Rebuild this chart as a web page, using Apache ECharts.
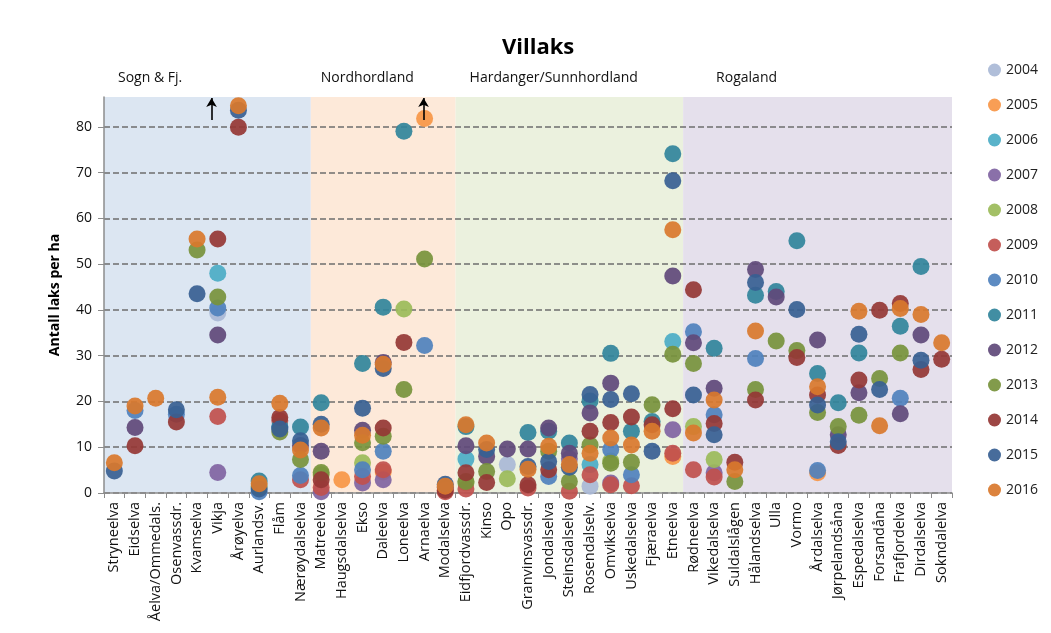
<!DOCTYPE html>
<html lang="no">
<head>
	<meta charset="UTF-8">
	<title>Villaks</title>
	<script src="https://cdn.jsdelivr.net/npm/echarts@6/dist/echarts.min.js"></script>
</head>
<body style="margin:0;background-color:#ffffff;">
<div id="main" style="width:1051px;height:633px;"></div>
<script type="text/javascript">
    // elvene langs x-aksen
    var rivers = ['Stryneelva','Eidselva','Åelva/Ommedals.','Osenvassdr.','Kvamselva','Vikja','Årøyelva','Aurlandsv.','Flåm','Nærøydalselva',
        'Matreelva','Haugsdalselva','Ekso','Daleelva','Loneelva','Arnaelva','Modalselva',
        'Eidfjordvassdr.','Kinso','Opo','Granvinsvassdr.','Jondalselva','Steinsdalselva','Rosendalselv.','Omvikselva','Uskedalselva','Fjæraelva','Etneelva',
        'Rødneelva','Vikedalselva','Suldalslågen','Hålandselva','Ulla','Vormo','Årdalselva','Jørpelandsåna','Espedalselva','Forsandåna','Frafjordelva','Dirdalselva','Sokndalelva'];

    // regioner: navn, fra-indeks, til-indeks
    var regions = [['Sogn & Fj.', 0, 10], ['Nordhordland', 10, 17], ['Hardanger/Sunnhordland', 17, 28], ['Rogaland', 28, 41]];

    var years = ['2004','2005','2006','2007','2008','2009','2010','2011','2012','2013','2014','2015','2016'];

    // antall laks per ha, ett array per år ('-' = ingen verdi)
    var y2004 = ['-','-','-','-','-',39.3,'-','-','-','-',  '-','-','-','-','-','-','-',  '-','-',6.2,'-','-','-',1.5,'-','-','-','-',  '-','-','-','-','-','-','-','-','-','-','-','-','-'];
    var y2005 = ['-','-','-','-','-','-','-','-','-','-',  '-',2.9,'-',4.6,'-',81.8,'-',  '-','-','-','-','-','-','-','-','-','-',8.0,  '-','-','-','-','-','-',4.4,'-','-','-','-','-','-'];
    var y2006 = ['-','-','-','-','-',48.0,'-','-','-','-',  '-','-','-','-','-','-','-',  7.4,'-','-','-','-','-',6.2,'-','-','-',33.1,  '-','-','-','-','-','-','-','-','-','-','-','-','-'];
    var y2007 = ['-','-','-','-','-',4.5,'-','-','-','-',  0.3,'-',2.2,2.9,'-','-','-',  '-','-','-','-','-',7.5,'-',2.2,'-','-',13.8,  '-',4.4,'-','-','-','-','-','-','-','-','-','-','-'];
    var y2008 = ['-','-','-','-','-','-','-','-','-','-',  4.0,'-',6.6,'-',40.2,'-','-',  2.2,'-',3.1,'-','-','-','-',7.0,'-','-','-',  14.5,7.3,'-','-','-','-','-','-','-','-','-','-','-'];
    var y2009 = ['-','-','-','-','-',16.7,'-','-',15.8,2.9,  1.2,'-',3.6,5.1,'-','-',0.3,  0.9,'-','-',1.1,'-',0.4,4.0,1.8,1.6,'-',8.7,  5.1,3.5,'-','-','-','-','-','-','-','-','-','-','-'];
    var y2010 = ['-',18.0,'-',17.2,'-',40.4,'-',0.3,14.3,3.8,  '-','-',5.1,9.1,'-',32.2,'-',  '-','-','-','-',3.6,'-','-',9.5,4.0,'-','-',  35.2,17.1,'-',29.4,'-','-',4.9,'-','-','-',20.7,'-','-'];
    var y2011 = ['-','-','-','-','-','-','-',2.6,14.5,14.4,  19.7,'-',28.3,40.6,79.0,'-','-',  14.5,'-','-',13.2,13.5,10.9,20.1,30.5,13.5,15.6,74.1,  '-',31.6,'-',43.2,44.0,55.1,26.1,19.7,30.6,'-',36.4,49.5,'-'];
    var y2012 = ['-',14.3,'-','-','-',34.5,'-','-','-',10.4,  9.1,'-',13.7,28.5,'-','-',1.2,  10.3,8.0,9.6,9.6,14.2,8.7,17.5,24.0,'-','-',47.4,  32.8,22.9,'-',48.8,42.8,'-',33.4,12.7,21.9,'-',17.3,34.5,'-'];
    var y2013 = ['-','-','-','-',53.1,42.8,'-',1.3,13.3,7.3,  4.5,'-',11.0,12.4,22.6,51.1,'-',  2.5,4.7,'-','-',9.1,2.5,10.5,6.5,6.7,19.3,30.3,  28.3,'-',2.5,22.6,33.2,31.1,17.6,14.5,17.0,25.0,30.6,'-','-'];
    var y2014 = ['-',10.3,'-',15.5,'-',55.5,79.9,'-',16.5,'-',  2.9,'-','-',14.2,32.9,'-',0.6,  4.4,2.3,'-',1.8,5.1,'-',13.5,15.4,16.6,14.9,18.4,  44.4,15.2,6.7,20.3,'-',29.6,21.4,10.4,24.7,39.9,41.4,27.0,29.2];
    var y2015 = [4.8,'-','-',18.2,43.5,'-',83.6,0.9,14.0,11.4,  15.0,'-',18.5,27.2,'-','-',1.9,  '-',9.5,'-',5.8,6.9,5.6,21.5,20.4,21.7,9.1,68.2,  21.4,12.7,'-',46.0,'-',40.1,19.2,11.2,34.7,22.6,'-',29.0,'-'];
    var y2016 = [6.6,19.0,20.7,'-',55.5,20.9,84.6,2.0,19.6,9.4,  14.2,'-',12.6,28.1,'-','-',1.5,  14.9,10.9,'-',5.2,10.2,6.2,8.7,12.0,10.5,13.5,57.5,  13.1,20.3,5.1,35.4,'-','-',23.2,'-',39.7,14.7,40.3,39.0,32.8];

    var yearData = [y2004, y2005, y2006, y2007, y2008, y2009, y2010, y2011, y2012, y2013, y2014, y2015, y2016];

    // piler for verdier over skalaen (posisjon på x, fra-til på y)
    var arrowX = [5.2, 15.45];
    var arrowY = [81.5, 86.3];

    var colors = ['#a9b9d6','#f79646','#4bacc6','#8064a2','#9bbb59','#c0504d','#4f81bd','#31849b','#5f497a','#77933c','#953735','#376092','#d9782d'];
    var bgColors = ['#dce6f2','#fde9d9','#ebf1de','#e5e0ec'];
    var font = 'Open Sans, Liberation Sans, sans-serif';

    var myChart = echarts.init(document.getElementById('main'));

    var series = [];
    for (var i = 0; i < years.length; i++) {
        series.push({
            name: years[i],
            type: 'scatter',
            symbolSize: 17,
            itemStyle: {color: colors[i], opacity: 0.92},
            data: yearData[i]
        });
    }

    // bakgrunn for regionene og pilene, på en skjult verdi-akse
    var areas = [];
    for (var r = 0; r < regions.length; r++) {
        var offs = (r === 3) ? 33 : (r === 1 ? 10 : 14);
        areas.push([{
            name: regions[r][0],
            xAxis: regions[r][1],
            itemStyle: {color: bgColors[r]},
            label: {position: [offs, -19], align: 'left', verticalAlign: 'middle'}
        }, {xAxis: regions[r][2]}]);
    }
    var arrows = [];
    for (var a = 0; a < arrowX.length; a++) {
        arrows.push([{coord: [arrowX[a], arrowY[0]]}, {coord: [arrowX[a], arrowY[1]]}]);
    }
    series.unshift({
        name: 'bg',
        type: 'line',
        xAxisIndex: 1,
        z: -1,
        data: [],
        silent: true,
        markArea: {
            silent: true,
            z: -1,
            label: {show: true, color: '#111', fontSize: 14, fontFamily: font},
            data: areas
        },
        markLine: {
            silent: true,
            symbol: ['none', 'arrow'],
            symbolSize: [8, 9],
            label: {show: false},
            lineStyle: {color: '#000', width: 1.6, type: 'solid'},
            data: arrows
        }
    });

    var option = {
        backgroundColor: '#ffffff',
        animation: false,
        title: {
            text: 'Villaks',
            left: 497,
            top: 32,
            textStyle: {fontSize: 22, fontWeight: 'bold', color: '#000', fontFamily: font}
        },
        legend: {
            data: years,
            orient: 'vertical',
            left: 983,
            top: 58,
            itemGap: 21,
            itemWidth: 13,
            itemHeight: 13,
            icon: 'circle',
            textStyle: {fontSize: 14, color: '#222', fontFamily: font}
        },
        grid: {left: 104, right: 99, top: 97, bottom: 140, containLabel: false},
        xAxis: [{
            type: 'category',
            data: rivers,
            axisLine: {lineStyle: {color: '#8c8c8c', width: 1.5}},
            axisTick: {show: true, length: 5, lineStyle: {color: '#8c8c8c'}},
            axisLabel: {interval: 0, rotate: 90, fontSize: 14.5, color: '#111', fontFamily: font, margin: 9},
            splitLine: {show: false}
        }, {
            type: 'value',
            min: 0,
            max: 41,
            show: false
        }],
        yAxis: {
            type: 'value',
            min: 0,
            max: 86.5,
            interval: 10,
            name: 'Antall laks per ha',
            nameLocation: 'middle',
            nameGap: 42,
            nameTextStyle: {fontSize: 14, fontWeight: 'bold', color: '#000', fontFamily: font},
            axisLine: {show: true, lineStyle: {color: '#8c8c8c', width: 1.5}},
            axisTick: {show: true, length: 6, lineStyle: {color: '#8c8c8c'}},
            axisLabel: {fontSize: 14, color: '#111', fontFamily: font, margin: 12, showMaxLabel: false},
            splitLine: {show: true, showMaxLine: false, lineStyle: {color: '#6e6e6e', type: [6, 3], width: 1.5}}
        },
        series: series
    };

    myChart.setOption(option);
</script>
</body>
</html>
